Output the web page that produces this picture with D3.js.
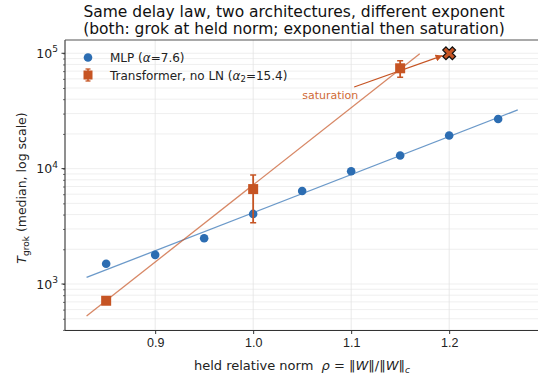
<!DOCTYPE html>
<html>
<head>
<meta charset="utf-8">
<script src="https://cdn.jsdelivr.net/npm/d3@7"></script>
<style>
  body { margin: 0; background: #fff; }
  svg { font-family: "DejaVu Sans", sans-serif; }
</style>
</head>
<body>
<div class="chart"></div>
<script>
// data
let mlpRho = [0.85, 0.90, 0.95, 1.00, 1.05, 1.10, 1.15, 1.20, 1.25];
let mlpT = [1500, 1790, 2490, 4050, 6400, 9480, 13000, 19400, 26900];
let mlpAlpha = 7.6;
let mlpFitAt1 = 4150;
let mlpFitRange = [0.83, 1.27];

let trRho = [0.85, 1.00, 1.15];
let trT = [716, 6650, 74100];
let trLo = [716, 3400, 61900];
let trHi = [716, 8810, 86300];
let trAlpha = 15.4;
let trFitAt1 = 7230;
let trFitRange = [0.83, 1.17];

let satRho = 1.20;
let satT = 100000;

let xTicks = [0.9, 1.0, 1.1, 1.2];
let yDecades = [3, 4, 5];

let svgWidth = 538;
let svgHeight = 379;

let blue = "#2c6db2";
let orange = "#c65423";

let svg = d3.select(".chart")
  .append("svg")
  .attr("width", svgWidth)
  .attr("height", svgHeight);

let xScale = d3.scaleLinear()
  .domain([0.808, 1.3])
  .range([65, 65 + 0.492 * 980]);

let yScale = d3.scaleLog()
  .domain([Math.pow(10, 2.597), Math.pow(10, 5.115)])
  .range([330.5, 40]);

let plotLeft = 65, plotRight = 560, plotTop = 40, plotBottom = 330.5;

let defs = svg.append("defs");
defs.append("clipPath").attr("id", "plotclip")
  .append("rect")
  .attr("x", plotLeft).attr("y", plotTop)
  .attr("width", plotRight - plotLeft).attr("height", plotBottom - plotTop);

// grid
let minorVals = [];
for (let k = 2; k <= 5; k++) {
  for (let m = 1; m <= 9; m++) {
    let v = m * Math.pow(10, k);
    if (v >= yScale.domain()[0] && v <= yScale.domain()[1]) minorVals.push(v);
  }
}
let grid = svg.append("g").attr("clip-path", "url(#plotclip)");
grid.selectAll(".hgrid")
  .data(minorVals)
  .enter().append("line")
  .attr("x1", plotLeft).attr("x2", plotRight)
  .attr("y1", d => yScale(d)).attr("y2", d => yScale(d))
  .attr("stroke", "#ebebeb")
  .attr("stroke-width", 0.8);
grid.selectAll(".vgrid")
  .data(xTicks)
  .enter().append("line")
  .attr("x1", d => xScale(d)).attr("x2", d => xScale(d))
  .attr("y1", plotTop).attr("y2", plotBottom)
  .attr("stroke", "#e3e3e3")
  .attr("stroke-width", 0.8);

// axes
let bottomAxis = d3.axisBottom(xScale)
  .tickValues(xTicks)
  .tickFormat(d3.format(".1f"))
  .tickSize(3.5)
  .tickPadding(4);
let xAxisG = svg.append("g")
  .attr("transform", `translate(0, ${plotBottom})`)
  .call(bottomAxis);
xAxisG.select(".domain").remove();
xAxisG.selectAll("text").attr("font-size", 12.5).attr("fill", "#222");
xAxisG.selectAll("line").attr("stroke", "#333");

let leftAxis = d3.axisLeft(yScale)
  .tickValues(minorVals)
  .tickSize(2)
  .tickFormat("");
let yAxisG = svg.append("g")
  .attr("transform", `translate(${plotLeft}, 0)`)
  .call(leftAxis);
yAxisG.select(".domain").remove();
yAxisG.selectAll("line").attr("stroke", "#333").attr("stroke-width", 0.7);

let majorY = svg.append("g");
yDecades.forEach(function(k) {
  let y = yScale(Math.pow(10, k));
  majorY.append("line")
    .attr("x1", plotLeft - 3.5).attr("x2", plotLeft)
    .attr("y1", y).attr("y2", y)
    .attr("stroke", "#333");
  let t = majorY.append("text")
    .attr("x", plotLeft - 7)
    .attr("y", y + 4.5)
    .attr("text-anchor", "end")
    .attr("font-size", 12.5)
    .attr("fill", "#222");
  t.append("tspan").text("10");
  t.append("tspan").attr("dy", -5.5).attr("font-size", 9).text(k);
});

// spines
svg.append("line")
  .attr("x1", plotLeft).attr("x2", plotLeft)
  .attr("y1", plotTop).attr("y2", plotBottom)
  .attr("stroke", "#333").attr("stroke-width", 1.1);
svg.append("line")
  .attr("x1", plotLeft).attr("x2", plotRight)
  .attr("y1", plotBottom).attr("y2", plotBottom)
  .attr("stroke", "#333").attr("stroke-width", 1.1);
svg.append("line")
  .attr("x1", plotLeft).attr("x2", plotRight)
  .attr("y1", plotTop).attr("y2", plotTop)
  .attr("stroke", "#555").attr("stroke-width", 1.1);

// fit lines
function fitLine(rho, at1, alpha) {
  return at1 * Math.exp(alpha * (rho - 1));
}
let line = d3.line()
  .x(d => xScale(d[0]))
  .y(d => yScale(d[1]));

let plot = svg.append("g").attr("clip-path", "url(#plotclip)");

plot.append("path")
  .datum(mlpFitRange.map(r => [r, fitLine(r, mlpFitAt1, mlpAlpha)]))
  .attr("d", line)
  .attr("fill", "none")
  .attr("stroke", blue)
  .attr("stroke-opacity", 0.7)
  .attr("stroke-width", 1.3);

plot.append("path")
  .datum(trFitRange.map(r => [r, fitLine(r, trFitAt1, trAlpha)]))
  .attr("d", line)
  .attr("fill", "none")
  .attr("stroke", orange)
  .attr("stroke-opacity", 0.7)
  .attr("stroke-width", 1.3);

// MLP points
plot.selectAll(".mlp")
  .data(mlpRho)
  .enter().append("circle")
  .attr("cx", d => xScale(d))
  .attr("cy", (d, i) => yScale(mlpT[i]))
  .attr("r", 4.3)
  .attr("fill", blue);

// transformer error bars and squares
let trData = trRho.map((r, i) => ({ rho: r, t: trT[i], lo: trLo[i], hi: trHi[i] }));
let eb = plot.selectAll(".eb")
  .data(trData.filter(d => d.hi > d.lo))
  .enter().append("g");
eb.append("line")
  .attr("x1", d => xScale(d.rho)).attr("x2", d => xScale(d.rho))
  .attr("y1", d => yScale(d.lo)).attr("y2", d => yScale(d.hi))
  .attr("stroke", orange).attr("stroke-width", 1.8);
eb.append("line")
  .attr("x1", d => xScale(d.rho) - 3).attr("x2", d => xScale(d.rho) + 3)
  .attr("y1", d => yScale(d.lo)).attr("y2", d => yScale(d.lo))
  .attr("stroke", orange).attr("stroke-width", 1.5);
eb.append("line")
  .attr("x1", d => xScale(d.rho) - 3).attr("x2", d => xScale(d.rho) + 3)
  .attr("y1", d => yScale(d.hi)).attr("y2", d => yScale(d.hi))
  .attr("stroke", orange).attr("stroke-width", 1.5);

plot.selectAll(".sq")
  .data(trData)
  .enter().append("rect")
  .attr("x", d => xScale(d.rho) - 5)
  .attr("y", d => yScale(d.t) - 5)
  .attr("width", 10)
  .attr("height", 10)
  .attr("fill", orange);

// saturation annotation
let textX = xScale(1.05), textY = yScale(43500);
let satX = xScale(satRho), satY = yScale(satT);
defs.append("marker")
  .attr("id", "arrowhead")
  .attr("viewBox", "0 0 10 10")
  .attr("refX", 10).attr("refY", 5)
  .attr("markerWidth", 7).attr("markerHeight", 7)
  .attr("markerUnits", "userSpaceOnUse")
  .attr("orient", "auto")
  .append("path")
  .attr("d", "M0,0 L10,5 L0,10 z")
  .attr("fill", orange);

let sx = textX + 52, sy = textY - 8;
let dx = satX - sx, dy = satY - sy;
let len = Math.sqrt(dx * dx + dy * dy);
svg.append("line")
  .attr("x1", sx).attr("y1", sy)
  .attr("x2", satX - dx / len * 7).attr("y2", satY - dy / len * 7)
  .attr("stroke", orange)
  .attr("stroke-width", 1.1)
  .attr("marker-end", "url(#arrowhead)");

svg.append("text")
  .attr("x", textX)
  .attr("y", textY + 4)
  .attr("font-size", 11)
  .attr("fill", "#cf6a36")
  .text("saturation");

// saturation X marker
let xPath = "M-3.2,-6.4 L0,-3.2 L3.2,-6.4 L6.4,-3.2 L3.2,0 L6.4,3.2 L3.2,6.4 L0,3.2 L-3.2,6.4 L-6.4,3.2 L-3.2,0 L-6.4,-3.2 Z";
svg.append("path")
  .attr("transform", `translate(${satX}, ${satY})`)
  .attr("d", xPath)
  .attr("fill", orange)
  .attr("stroke", "#111")
  .attr("stroke-width", 1.2)
  .attr("stroke-linejoin", "miter");

// legend
let legend = svg.append("g");
legend.append("circle")
  .attr("cx", 88).attr("cy", 57.5).attr("r", 4.3)
  .attr("fill", blue);
let l1 = legend.append("text")
  .attr("x", 110).attr("y", 61.5)
  .attr("font-size", 12).attr("fill", "#222");
l1.append("tspan").text("MLP (");
l1.append("tspan").attr("font-style", "italic").text("α");
l1.append("tspan").text("=7.6)");

legend.append("line")
  .attr("x1", 88).attr("x2", 88).attr("y1", 69).attr("y2", 81)
  .attr("stroke", orange).attr("stroke-width", 1.5);
legend.append("line")
  .attr("x1", 85.5).attr("x2", 90.5).attr("y1", 69).attr("y2", 69)
  .attr("stroke", orange).attr("stroke-width", 1.3);
legend.append("line")
  .attr("x1", 85.5).attr("x2", 90.5).attr("y1", 81).attr("y2", 81)
  .attr("stroke", orange).attr("stroke-width", 1.3);
legend.append("rect")
  .attr("x", 83.5).attr("y", 70.5).attr("width", 9).attr("height", 9)
  .attr("fill", orange);
let l2 = legend.append("text")
  .attr("x", 110).attr("y", 79.5)
  .attr("font-size", 12).attr("fill", "#222");
l2.append("tspan").text("Transformer, no LN (");
l2.append("tspan").attr("font-style", "italic").text("α");
l2.append("tspan").attr("dy", 2.5).attr("font-size", 8.5).text("2");
l2.append("tspan").attr("dy", -2.5).text("=15.4)");

// title
let title = svg.append("text")
  .attr("x", 294)
  .attr("text-anchor", "middle")
  .attr("font-size", 15.5)
  .attr("fill", "#111");
title.append("tspan").attr("x", 294).attr("y", 17)
  .text("Same delay law, two architectures, different exponent");
title.append("tspan").attr("x", 294).attr("y", 34)
  .text("(both: grok at held norm; exponential then saturation)");

// x label
let xl = svg.append("text")
  .attr("x", 302)
  .attr("y", 370)
  .attr("text-anchor", "middle")
  .attr("font-size", 13)
  .attr("fill", "#222");
xl.append("tspan").text("held relative norm\u00a0\u00a0");
xl.append("tspan").attr("font-style", "italic").text("ρ");
xl.append("tspan").text(" = ‖");
xl.append("tspan").attr("font-style", "italic").text("W");
xl.append("tspan").text("‖/‖");
xl.append("tspan").attr("font-style", "italic").text("W");
xl.append("tspan").text("‖");
xl.append("tspan").attr("font-style", "italic").attr("dy", 3).attr("font-size", 9).text("c");

// y label
let yl = svg.append("text")
  .attr("transform", `translate(26, 188) rotate(-90)`)
  .attr("text-anchor", "middle")
  .attr("font-size", 12.5)
  .attr("fill", "#222");
yl.append("tspan").attr("font-style", "italic").text("T");
yl.append("tspan").attr("dy", 3).attr("font-size", 9).text("grok");
yl.append("tspan").attr("dy", -3).text(" (median, log scale)");
</script>
</body>
</html>
